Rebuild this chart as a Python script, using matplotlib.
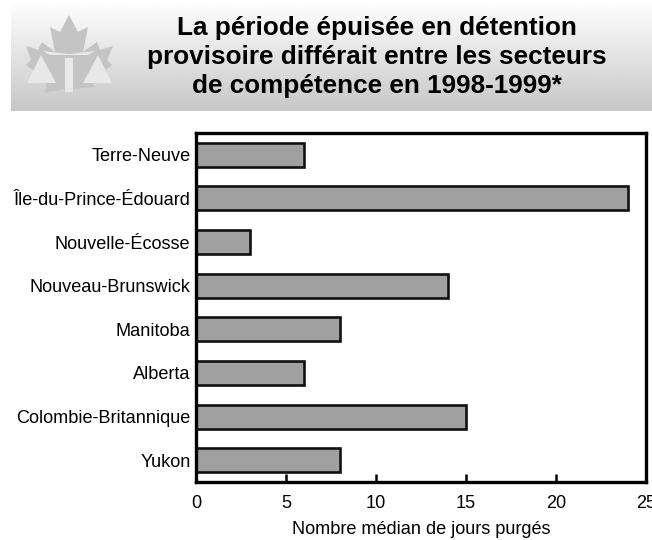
#!/usr/bin/env python3
"""Median days served in remand by jurisdiction, 1998-1999."""
import matplotlib
matplotlib.use("Agg")
import matplotlib.pyplot as plt
import numpy as np
from matplotlib.patches import Polygon, Rectangle

W, H = 652, 540

provinces = ["Terre-Neuve", "Île-du-Prince-Édouard", "Nouvelle-Écosse",
             "Nouveau-Brunswick", "Manitoba", "Alberta",
             "Colombie-Britannique", "Yukon"]
median_days = [6, 24, 3, 14, 8, 6, 15, 8]
x_ticks = [0, 5, 10, 15, 20, 25]
title_lines = ["La période épuisée en détention",
               "provisoire différait entre les secteurs",
               "de compétence en 1998-1999*"]

plt.rcParams["font.family"] = ["Liberation Sans", "DejaVu Sans"]

fig = plt.figure(figsize=(W / 100, H / 100), dpi=100)

# banner with vertical gradient, pixel coordinates
bg = fig.add_axes([0, 0, 1, 1])
grad = np.linspace(1.0, 0.78, 100).reshape(-1, 1)
bg.imshow(grad, extent=(11, W, 111, 0), cmap="gray", vmin=0, vmax=1, aspect="auto")
bg.set_xlim(0, W)
bg.set_ylim(H, 0)
bg.axis("off")

# maple leaf and scales emblem
leaf = [(69, 15), (78, 32), (88, 27), (83, 52), (97, 42), (100, 50), (113, 46),
        (107, 60), (112, 65), (92, 80), (94, 87), (74, 89), (73, 92), (65, 92),
        (64, 89), (45, 93), (47, 80), (26, 65), (31, 60), (26, 46), (38, 50),
        (42, 42), (55, 52), (50, 27), (60, 32)]
bg.add_patch(Polygon(leaf, closed=True, fc="#c4c4c4", ec="none"))
for tri in ([(41, 55), (56, 83), (27, 83)], [(98, 55), (112, 83), (83, 83)]):
    bg.add_patch(Polygon(tri, closed=True, fc="#e8e8e8", ec="none"))
bg.add_patch(Rectangle((65, 58), 8, 34, fc="#e8e8e8", ec="none"))
bg.add_patch(Polygon([(43, 51), (69, 54), (95, 51), (88, 55), (50, 55)],
                     closed=True, fc="#e8e8e8", ec="none"))

for y, line in zip((28, 57, 86), title_lines):
    bg.text(377, y, line, ha="center", va="center", fontsize=18.8,
            fontweight="bold", color="black")

ax = fig.add_axes([196 / W, 1 - 482 / H, 450 / W, 349 / H])
pos = np.arange(len(provinces))
ax.barh(pos, median_days, height=0.55, color="#a0a0a0", edgecolor="#111111", linewidth=1.9)
ax.set_xlim(0, 25)
ax.set_ylim(len(provinces) - 0.5, -0.5)
ax.set_xticks(x_ticks)
ax.set_yticks(pos)
ax.set_yticklabels(provinces)
ax.tick_params(axis="x", direction="in", length=5.5, width=1.8, labelsize=13.1, pad=9.5)
ax.tick_params(axis="y", length=0, labelsize=13.1, pad=4)
for s in ax.spines.values():
    s.set_linewidth(2.4)
ax.set_xlabel("Nombre médian de jours purgés", fontsize=13.1, labelpad=6.5)

fig.savefig("out.png", dpi=100)
